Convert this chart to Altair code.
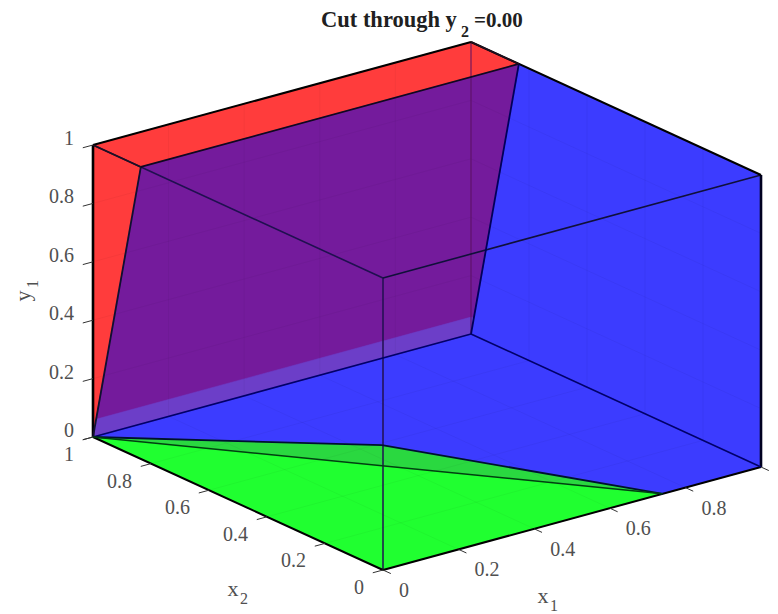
import altair as alt
import pandas as pd

# Axes box corners and view (orthographic)
origin = (383, 570)
ux1 = (378, -103)
ux2 = (-290, -133)
uy1 = (0, -292)

CUT = 0.835      # x2 of the slanted plane at y1 = 1
GREEN_END = 0.74 # x1 where the green face ends on the x2 = 0 edge
STRIP = 0.058    # height of the lighter strip at the foot of the back wall
KINK = (0.45, 0.59, 0.0)

ticks = [0, 0.2, 0.4, 0.6, 0.8, 1]
tick_text = ["0", "0.2", "0.4", "0.6", "0.8", "1"]


def proj(p):
    a, b, c = p
    return (origin[0] + ux1[0] * a + ux2[0] * b + uy1[0] * c,
            origin[1] + ux1[1] * a + ux2[1] * b + uy1[1] * c)


# Faces, drawn back to front: (colour, 3-D vertices)
faces = [
    ("#ff3c3c", [(0, 1, 1), (1, 1, 1), (1, CUT, 1), (0, CUT, 1)]),
    ("#ff3c3c", [(0, 1, 0), (0, 1, 1), (0, CUT, 1)]),
    ("#3c3cff", [(1, 1, 0), (1, CUT, 1), (1, 0, 1), (1, 0, 0)]),
    ("#3c3cff", [(0, 1, 0), KINK, (GREEN_END, 0, 0), (1, 0, 0), (1, 1, 0)]),
    ("#20ff30", [(0, 1, 0), (0, 0, 0), (GREEN_END, 0, 0)]),
    ("#2ad840", [(0, 1, 0), KINK, (GREEN_END, 0, 0)]),
    ("#741b9c", [(0, 1, 0), (0, CUT, 1), (1, CUT, 1), (1, 1, 0)]),
    ("#6c3ec8", [(0, 1, 0), (0, 1 - 0.165 * STRIP, STRIP), (0, 1, STRIP), (1, 1, STRIP), (1, 1 - 0.165 * STRIP, STRIP), (1, 1, 0)]),
    ("#ff3c3c", [(0, 1, 0), (0, 1, STRIP + 0.01), (0, 1 - 0.165 * (STRIP + 0.01), STRIP + 0.01)]),
]

# Edges: (start, end, colour, width)
edges = [
    ((0, 0, 0), (0, 0, 1), "#201050", 1.5),
    ((1, 1, 0), (1, 1, 1), "#5a1060", 1.0),
    ((0, 0, 1), (0, 1, 1), "#201050", 1.6),
    ((0, 0, 1), (1, 0, 1), "#10103a", 1.6),
    ((0, 1, 0), (0, 1, 1), "#000000", 2.6),
    ((1, 0, 0), (1, 0, 1), "#000020", 2.6),
    ((0, 1, 1), (1, 1, 1), "#000000", 2.0),
    ((1, 1, 1), (1, 0, 1), "#000000", 2.0),
    ((0, 1, 0), (0, 0, 0), "#000000", 2.0),
    ((0, 0, 0), (1, 0, 0), "#000000", 2.0),
    ((0, 1, 0), (1, 1, 0), "#00006a", 1.6),
    ((1, 1, 0), (1, 0, 0), "#00006a", 1.6),
    ((0, 1, 0), (0, CUT, 1), "#101030", 1.8),
    ((1, 1, 0), (1, CUT, 1), "#00005a", 1.8),
    ((0, CUT, 1), (1, CUT, 1), "#100820", 1.8),
    ((0, 1, 1), (0, CUT, 1), "#201020", 1.5),
    ((1, 1, 1), (1, CUT, 1), "#201020", 1.5),
    ((0, 1, 0), KINK, "#001030", 1.8),
    (KINK, (GREEN_END, 0, 0), "#001030", 1.8),
    ((0, 1, 0), (GREEN_END, 0, 0), "#004010", 1.5),
]

XD = alt.X("x:Q", axis=None, scale=alt.Scale(domain=[8, 770], nice=False, zero=False))
YD = alt.Y("y:Q", axis=None, scale=alt.Scale(domain=[613, 8], nice=False, zero=False))

layers = []

for colour, verts in faces:
    df = pd.DataFrame([{"x": proj(v)[0], "y": proj(v)[1], "i": i} for i, v in enumerate(verts)])
    layers.append(alt.Chart(df).mark_line(interpolate="linear-closed", fill=colour, stroke=colour,
                                          strokeWidth=0.5, clip=False)
                  .encode(x=XD, y=YD, order="i:Q"))

# Faint grid on the three back walls
grid = []
for t in ticks[1:-1]:
    grid += [((t, 0, 0), (t, 1, 0)), ((0, t, 0), (1, t, 0)),
             ((t, 1, 0), (t, 1, 1)), ((0, 1, t), (1, 1, t)),
             ((1, t, 0), (1, t, 1)), ((1, 0, t), (1, 1, t))]
grid_rows = []
for k, (p, q) in enumerate(grid):
    for j, v in enumerate((p, q)):
        grid_rows.append({"x": proj(v)[0], "y": proj(v)[1], "k": k, "j": j})
layers.append(alt.Chart(pd.DataFrame(grid_rows)).mark_line(color="#000000", opacity=0.04, strokeWidth=1)
              .encode(x=XD, y=YD, detail="k:N", order="j:Q"))

edge_rows = []
for k, (p, q, c, w) in enumerate(edges):
    for j, v in enumerate((p, q)):
        edge_rows.append({"x": proj(v)[0], "y": proj(v)[1], "k": k, "j": j, "c": c, "w": w})
layers.append(alt.Chart(pd.DataFrame(edge_rows)).mark_line()
              .encode(x=XD, y=YD, detail="k:N", order="j:Q",
                      color=alt.Color("c:N", scale=None),
                      strokeWidth=alt.StrokeWidth("w:Q", scale=None)))

# Tick marks
tick_rows = []
k = 0
for t in ticks:
    for base, d in (((0, 1, t), (-0.027, 0, 0)), ((0, t, 0), (-0.027, 0, 0)), ((t, 0, 0), (0, -0.027, 0))):
        end = tuple(b + e for b, e in zip(base, d))
        for j, v in enumerate((base, end)):
            tick_rows.append({"x": proj(v)[0], "y": proj(v)[1], "k": k, "j": j})
        k += 1
layers.append(alt.Chart(pd.DataFrame(tick_rows)).mark_line(color="#333333", strokeWidth=1)
              .encode(x=XD, y=YD, detail="k:N", order="j:Q"))


def texts(rows, **kw):
    return alt.Chart(pd.DataFrame(rows)).mark_text(font="Liberation Serif", **kw).encode(
        x=XD, y=YD, text="t:N")


LABEL = "#505050"
y_rows = [{"x": proj((0, 1, t))[0], "y": proj((0, 1, t))[1], "t": s} for t, s in zip(ticks, tick_text)]
x2_rows = [{"x": proj((0, t, 0))[0], "y": proj((0, t, 0))[1], "t": s} for t, s in zip(ticks, tick_text)]
x1_rows = [{"x": proj((t, 0, 0))[0], "y": proj((t, 0, 0))[1], "t": s} for t, s in zip(ticks[:-1], tick_text[:-1])]

layers.append(texts(y_rows, align="right", baseline="middle", fontSize=20, color=LABEL, dx=-19, dy=-6))
layers.append(texts(x2_rows, align="right", baseline="middle", fontSize=20, color=LABEL, dx=-19, dy=18))
layers.append(texts(x1_rows, align="left", baseline="middle", fontSize=20, color=LABEL, dx=16, dy=21))

# Axis titles and chart title, with their subscripts
title_parts = [
    (321, 27, "Cut through y", 22.5, "bold", "left"),
    (465, 37, "2", 16, "bold", "center"),
    (474, 27, "=0.00", 21, "bold", "left"),
]
for px, py, s, fs, fw, al in title_parts:
    layers.append(texts([{"x": px, "y": py, "t": s}], align=al, baseline="alphabetic",
                        fontSize=fs, fontWeight=fw, color="#202020"))

axis_parts = [
    (233, 589, "x", 22), (244, 599, "2", 16),
    (543, 596, "x", 22), (554, 606, "1", 16),
]
for px, py, s, fs in axis_parts:
    layers.append(texts([{"x": px, "y": py, "t": s}], align="center", baseline="middle",
                        fontSize=fs, color=LABEL))

y_title = pd.DataFrame([{"x": 23, "y": 296, "t": "y"}, {"x": 33, "y": 284, "t": "1"}])
layers.append(alt.Chart(y_title.iloc[[0]]).mark_text(font="Liberation Serif", fontSize=22, color=LABEL, angle=270)
              .encode(x=XD, y=YD, text="t:N"))
layers.append(alt.Chart(y_title.iloc[[1]]).mark_text(font="Liberation Serif", fontSize=16, color=LABEL, angle=270)
              .encode(x=XD, y=YD, text="t:N"))

chart = alt.layer(*layers).properties(
    width=762, height=605, padding=0,
    autosize=alt.AutoSizeParams(type="none"),
).configure_view(stroke=None)

chart.save("out.html", embed_options={"renderer": "svg", "actions": False})
